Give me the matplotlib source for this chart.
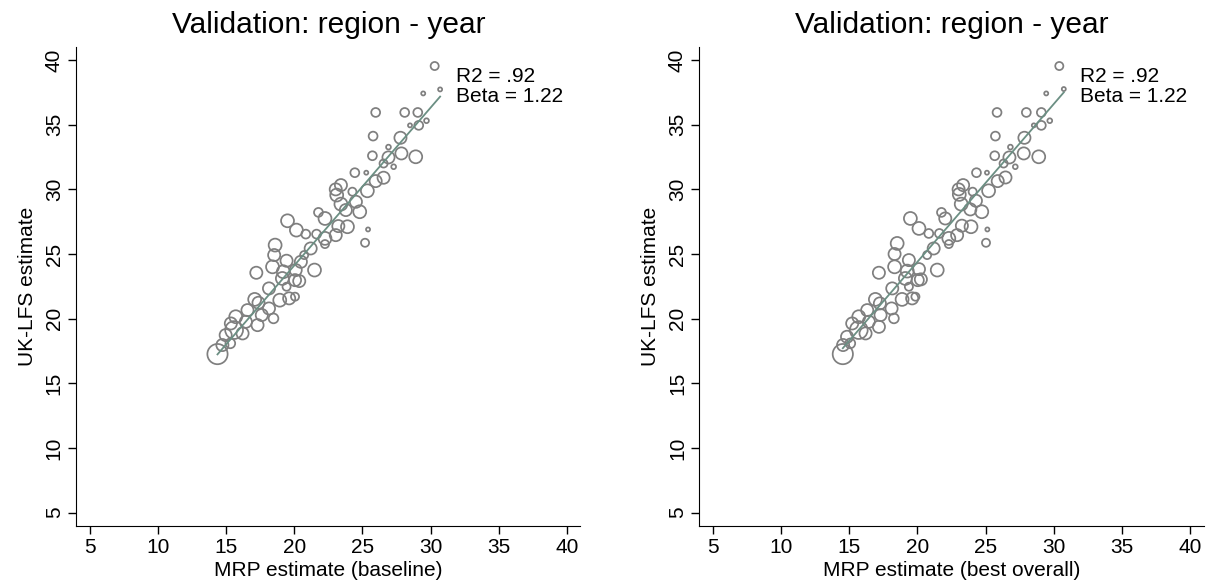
import numpy as np
import matplotlib
matplotlib.use("Agg")
import matplotlib.pyplot as plt

plt.rcParams['font.family'] = ['Liberation Sans', 'DejaVu Sans']

# ---- data ----
base_x = [30.30, 29.46, 30.70, 25.97, 28.10, 29.06, 28.49, 29.13, 29.70, 25.78,
          27.79, 26.91, 25.73, 26.91, 27.86, 28.91, 27.29, 26.55, 24.44, 25.28,
          26.55, 25.97, 25.36, 23.42, 23.04, 23.11, 24.26, 24.52, 23.42, 23.78,
          24.80, 21.77, 22.25, 23.90, 23.23, 19.50, 20.15, 20.84, 21.63, 22.25,
          23.04, 25.41, 25.19, 22.25, 21.20, 20.72, 18.59, 18.52, 19.43, 18.40,
          19.19, 20.10, 20.48, 21.48, 17.21, 19.12, 20.05, 20.36, 19.43, 18.14,
          17.09, 17.37, 18.93, 19.62, 20.05, 18.14, 16.56, 17.61, 18.47, 15.70,
          15.34, 15.58, 16.44, 16.20, 17.30, 14.96, 14.72, 15.30, 14.36]
base_y = [39.54, 37.42, 37.73, 35.95, 35.95, 35.95, 34.95, 34.95, 35.31, 34.12,
          33.99, 33.27, 32.60, 32.47, 32.78, 32.52, 31.75, 32.00, 31.29, 31.29,
          30.90, 30.64, 29.89, 30.33, 30.00, 29.56, 29.82, 29.04, 28.86, 28.40,
          28.27, 28.22, 27.75, 27.11, 27.16, 27.57, 26.85, 26.54, 26.54, 26.21,
          26.46, 26.90, 25.87, 25.77, 25.43, 24.92, 25.69, 24.92, 24.48, 24.01,
          23.63, 23.76, 24.40, 23.76, 23.55, 23.11, 22.98, 22.91, 22.47, 22.34,
          21.49, 21.23, 21.43, 21.57, 21.70, 20.79, 20.66, 20.28, 20.02, 20.15,
          19.63, 19.12, 19.76, 18.86, 19.50, 18.73, 17.96, 18.09, 17.26]
base_w = [4.0, 1.0, 1.0, 4.8, 4.8, 4.8, 1.0, 4.8, 1.4, 4.8,
          9.0, 1.4, 4.8, 9.0, 9.0, 10.2, 1.4, 4.0, 4.8, 1.0,
          9.0, 9.0, 10.2, 9.0, 9.0, 10.2, 4.0, 9.0, 10.2, 9.0,
          10.2, 4.8, 10.2, 10.2, 9.0, 10.2, 10.2, 4.8, 4.8, 10.2,
          9.0, 1.0, 4.0, 4.0, 9.0, 4.0, 10.2, 9.0, 9.0, 10.2,
          10.2, 9.0, 9.0, 10.2, 9.0, 10.2, 9.0, 9.0, 4.0, 9.0,
          10.2, 9.0, 10.2, 9.0, 4.0, 9.0, 9.0, 9.0, 5.8, 10.2,
          9.0, 19.4, 9.0, 9.0, 9.0, 9.0, 9.0, 5.8, 25.0]

best_x = [30.41, 29.45, 30.74, 25.84, 27.99, 29.09, 28.54, 29.09, 29.71, 25.72,
          27.85, 26.82, 25.67, 26.75, 27.80, 28.90, 27.18, 26.32, 24.33, 25.10,
          26.46, 25.89, 25.22, 23.35, 23.02, 23.07, 24.05, 24.29, 23.21, 23.88,
          24.72, 21.76, 22.04, 23.93, 23.26, 19.48, 20.11, 20.83, 21.61, 22.30,
          22.91, 25.13, 25.03, 22.30, 21.19, 20.71, 18.51, 18.32, 19.37, 18.32,
          19.25, 20.11, 21.45, 17.17, 19.11, 20.02, 20.25, 19.37, 18.15, 16.91,
          17.24, 18.87, 19.61, 19.85, 18.10, 16.31, 17.29, 18.27, 15.69, 15.21,
          15.69, 16.43, 16.19, 17.17, 14.83, 14.54, 15.07, 14.52]
best_y = [39.54, 37.42, 37.76, 35.95, 35.95, 35.95, 34.95, 34.95, 35.31, 34.12,
          33.99, 33.27, 32.60, 32.47, 32.78, 32.52, 31.75, 32.00, 31.29, 31.29,
          30.92, 30.64, 29.89, 30.33, 30.00, 29.61, 29.82, 29.12, 28.86, 28.45,
          28.27, 28.22, 27.75, 27.11, 27.19, 27.75, 26.98, 26.59, 26.59, 26.21,
          26.46, 26.90, 25.87, 25.77, 25.43, 24.92, 25.82, 25.00, 24.53, 24.01,
          23.68, 23.83, 23.76, 23.55, 23.11, 22.98, 23.04, 22.47, 22.34, 21.49,
          21.18, 21.49, 21.57, 21.70, 20.79, 20.66, 20.28, 20.02, 20.15, 19.63,
          19.12, 19.76, 18.86, 19.37, 18.60, 17.96, 18.09, 17.26]
best_w = [4.0, 1.0, 1.0, 4.8, 4.8, 4.8, 1.0, 4.8, 1.4, 4.8,
          9.0, 1.4, 4.8, 9.0, 9.0, 10.2, 1.4, 4.0, 4.8, 1.0,
          9.0, 9.0, 10.2, 9.0, 9.0, 10.2, 4.0, 9.0, 10.2, 9.0,
          10.2, 4.8, 9.0, 10.2, 9.0, 10.2, 10.2, 4.8, 4.8, 10.2,
          9.0, 1.0, 4.0, 4.0, 9.0, 4.0, 10.2, 9.0, 9.0, 10.2,
          10.2, 9.0, 10.2, 9.0, 10.2, 9.0, 9.0, 4.0, 9.0, 10.2,
          9.0, 10.2, 9.0, 4.0, 9.0, 9.0, 9.0, 5.8, 10.2, 9.0,
          19.4, 9.0, 9.0, 9.0, 9.0, 9.0, 5.8, 25.0]

fit_slope = [1.22, 1.22]
fit_intercept = [-0.28, 0.0]
r2_text = "R2 = .92\nBeta = 1.22"
ticks = [5, 10, 15, 20, 25, 30, 35, 40]
title = "Validation: region - year"
ylabel = "UK-LFS estimate"
xlabels = ["MRP estimate (baseline)", "MRP estimate (best overall)"]

panels = [(base_x, base_y, base_w), (best_x, best_y, best_w)]

fig = plt.figure(figsize=(12.06, 5.82), dpi=100)
fig.patch.set_facecolor('white')
lefts = [0.0633, 0.580]
FS = 15

for i, (px, py, pw) in enumerate(panels):
    ax = fig.add_axes([lefts[i], 0.097, 0.418, 0.822])
    px = np.array(px); py = np.array(py); pw = np.array(pw)
    ax.scatter(px, py, s=pw * 8.5, facecolors='none', edgecolors='#7f7f7f',
               linewidths=1.25, zorder=2)
    xx = np.array([px.min(), px.max()])
    ax.plot(xx, fit_intercept[i] + fit_slope[i] * xx, color='#6b8f83', lw=1.3,
            zorder=3)
    ax.text(31.9, 37.95, r2_text, fontsize=FS, va='center', ha='left',
            linespacing=1.1)
    ax.set_xlim(4, 41)
    ax.set_ylim(4, 41)
    ax.set_xticks(ticks)
    ax.set_yticks(ticks)
    ax.tick_params(direction='out', length=6, width=1, labelsize=FS, pad=3)
    for lab in ax.get_yticklabels():
        lab.set_rotation(90)
        lab.set_va('center')
    ax.spines['top'].set_visible(False)
    ax.spines['right'].set_visible(False)
    ax.set_title(title, fontsize=21.5, pad=10)
    ax.set_xlabel(xlabels[i], fontsize=FS, labelpad=3)
    ax.set_ylabel(ylabel, fontsize=FS, labelpad=6)

fig.savefig('out.png', dpi=100, facecolor='white')
